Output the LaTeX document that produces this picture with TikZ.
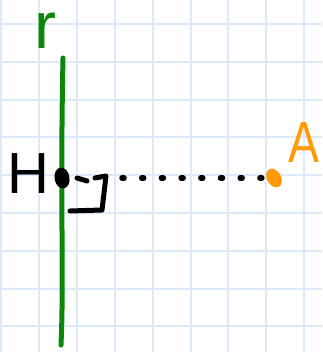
\documentclass[tikz,border=0pt]{standalone}
\usepackage{fontspec}
\setmainfont{Liberation Sans}
\usetikzlibrary{positioning, calc}
\definecolor{gridBlue}{HTML}{DCEAFB}
\definecolor{lineGreen}{HTML}{0A860A}
\definecolor{ptOrange}{HTML}{FF9A00}

\begin{document}
\begin{tikzpicture}[
  x=1pt, y=-1pt,
  gridline/.style={draw=gridBlue, line width=2pt},
  rline/.style={draw=lineGreen, line width=5pt, line cap=round},
  pen/.style={draw=black, line width=5pt, line cap=round, line join=round},
  dotline/.style={line width=5.5pt, line cap=round, dash pattern=on 2pt off 17.7pt},
  lbl/.style={inner sep=0pt, font=\fontsize{58}{58}\selectfont}
]
\useasboundingbox (0,0) rectangle (322,352);
% squared paper
\foreach \i in {0,...,8} {
  \draw[gridline] (1+37.9*\i,0) -- (1+37.9*\i,352);
  \draw[gridline] (0,24+37.8*\i) -- (322,24+37.8*\i);
}

\coordinate (rtop) at (63,58);
\coordinate (rbot) at (61,345);
\coordinate (H) at (62,178);
\coordinate (A) at (274,178);

% line r
\draw[rline] (rtop) .. controls (60,200) and (64,280) .. (rbot);
\node[lbl, text=lineGreen, font=\fontsize{66}{66}\selectfont] (rlbl) at (45,31) {r};

% perpendicular from A
\draw[dotline, shorten <=60pt, shorten >=12pt] (H) -- (A);
\draw[pen] ($(H)+(15,0)$) -- ($(H)+(25,3)$);
\draw[pen] ($(H)+(33,0)$) -- ($(H)+(44,-2)$) -- ($(H)+(40,32)$) -- ($(H)+(8,33)$);

% points
\fill[black, rotate around={10:(H)}] (H) ellipse [x radius=7.5, y radius=10.5];
\fill[ptOrange, rotate around={30:(A)}] (A) ellipse [x radius=7, y radius=10];
\node[lbl] (Hlbl) at (28,174) {H};
\node[lbl, text=ptOrange, xscale=0.8] (Albl) at (304,143) {A};
\end{tikzpicture}
\end{document}
